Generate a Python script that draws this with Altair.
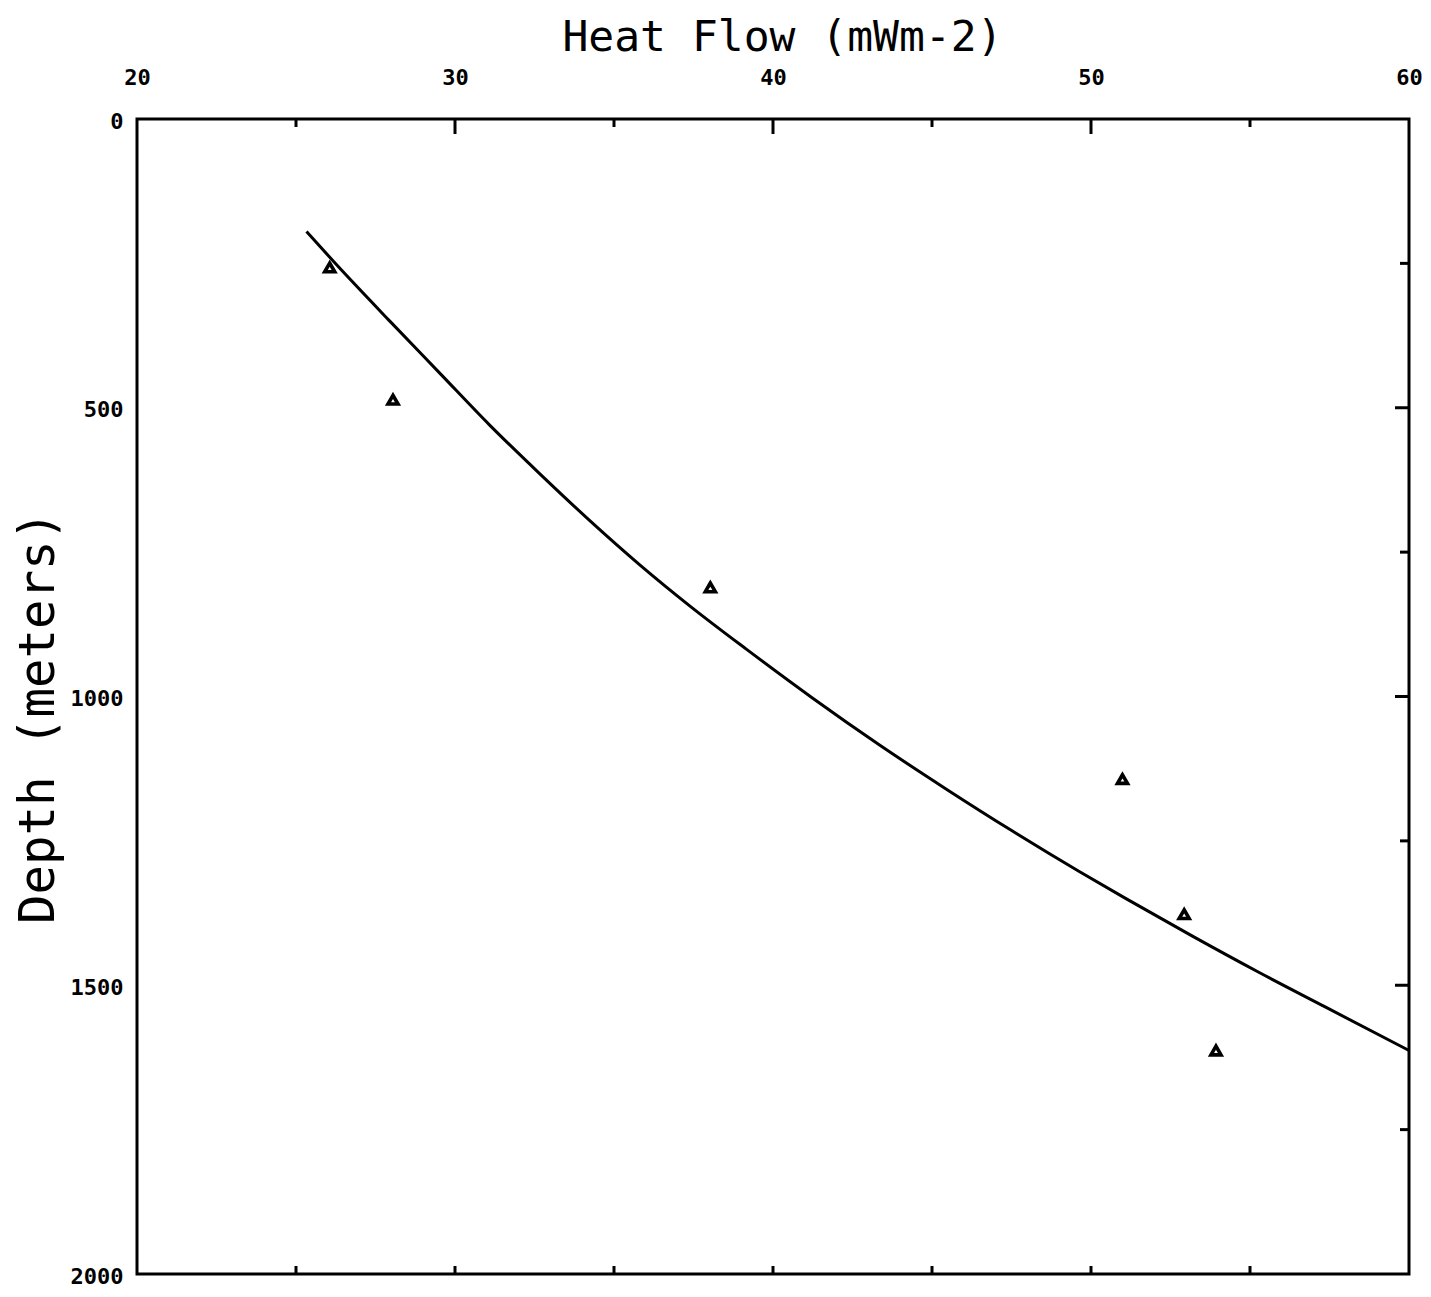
import altair as alt
import pandas as pd

# Observed data points (triangles)
obs_heatflow = [26.06, 28.05, 38.03, 50.99, 52.93, 53.93]
obs_depth = [257, 486, 811, 1143, 1377, 1613]

# Fitted curve
curve_heatflow = [25.33, 26.27, 27.95, 29.52, 31.09, 32.66, 34.23, 35.81, 37.38, 39.16,
                  41.25, 43.35, 45.44, 47.53, 49.63, 51.10, 53.19, 55.29, 57.38, 59.79, 60.0]
curve_depth = [195, 252, 350, 440, 530, 614, 695, 772, 843, 918,
               1003, 1084, 1160, 1233, 1303, 1350, 1415, 1478, 1538, 1607, 1613]

x_major = [20, 30, 40, 50, 60]
x_minor = [25, 35, 45, 55]
y_major = [0, 500, 1000, 1500, 2000]
y_minor = [250, 750, 1250, 1750]
x_inner_major = [30, 40, 50]
y_inner_major = [500, 1000, 1500]

W, H = 1272, 1155
FONT = "DejaVu Sans Mono"

obs = pd.DataFrame({"hf": obs_heatflow, "depth": obs_depth})
curve = pd.DataFrame({"hf": curve_heatflow, "depth": curve_depth})

xscale = alt.Scale(domain=[20, 60], nice=False, zero=False)
yscale = alt.Scale(domain=[0, 2000], reverse=True, nice=False, zero=False)

xaxis = alt.Axis(orient="top", values=x_major, format="d", ticks=False, domain=False, grid=False,
                 labelFont=FONT, labelFontSize=22, labelFontWeight="bold", labelColor="black",
                 labelPadding=30, labelFlush=False,
                 title="Heat Flow (mWm-2)", titleFont=FONT, titleFontSize=43,
                 titleFontWeight="normal", titleColor="black",
                 titleX=645, titleY=-69, titleBaseline="alphabetic", titleAlign="center")
yaxis = alt.Axis(orient="left", values=y_major, format="d", ticks=False, domain=False, grid=False,
                 labelFont=FONT, labelFontSize=22, labelFontWeight="bold", labelColor="black",
                 labelPadding=14, labelFlush=False, labelOffset=2,
                 title="Depth (meters)", titleFont=FONT, titleFontSize=49,
                 titleFontWeight="normal", titleColor="black",
                 titleX=-84, titleY=598, titleAngle=270, titleBaseline="alphabetic",
                 titleAlign="center")

line = alt.Chart(curve).mark_line(color="black", strokeWidth=3, interpolate="monotone").encode(
    x=alt.X("hf:Q", scale=xscale, axis=xaxis),
    y=alt.Y("depth:Q", scale=yscale, axis=yaxis),
    order=alt.Order("hf:Q"),
)

pts = alt.Chart(obs).mark_point(shape="triangle-up", filled=False, color="black",
                                strokeWidth=3.6, size=100, opacity=1).encode(
    x=alt.X("hf:Q", scale=xscale),
    y=alt.Y("depth:Q", scale=yscale),
)

# inward ticks
top_major = alt.Chart(pd.DataFrame({"v": x_inner_major})).mark_rule(color="black", strokeWidth=3).encode(
    x=alt.X("v:Q", scale=xscale), y=alt.value(0), y2=alt.value(15))
top_minor = alt.Chart(pd.DataFrame({"v": x_minor})).mark_rule(color="black", strokeWidth=3).encode(
    x=alt.X("v:Q", scale=xscale), y=alt.value(0), y2=alt.value(8))
bottom_ticks = alt.Chart(pd.DataFrame({"v": x_minor + x_inner_major})).mark_rule(color="black", strokeWidth=3).encode(
    x=alt.X("v:Q", scale=xscale), y=alt.value(H), y2=alt.value(H - 8))
right_major = alt.Chart(pd.DataFrame({"v": y_inner_major})).mark_rule(color="black", strokeWidth=3).encode(
    y=alt.Y("v:Q", scale=yscale), x=alt.value(W), x2=alt.value(W - 14))
right_minor = alt.Chart(pd.DataFrame({"v": y_minor})).mark_rule(color="black", strokeWidth=3).encode(
    y=alt.Y("v:Q", scale=yscale), x=alt.value(W), x2=alt.value(W - 9))

chart = alt.layer(line, pts, top_major, top_minor, bottom_ticks, right_major, right_minor).properties(
    width=W, height=H,
    background="white",
    autosize=alt.AutoSizeParams(type="none"),
    padding={"left": 129, "top": 111, "right": 14, "bottom": 13},
).configure_view(stroke="black", strokeWidth=3)

chart.save("out.html", embed_options={"renderer": "svg", "actions": False})
